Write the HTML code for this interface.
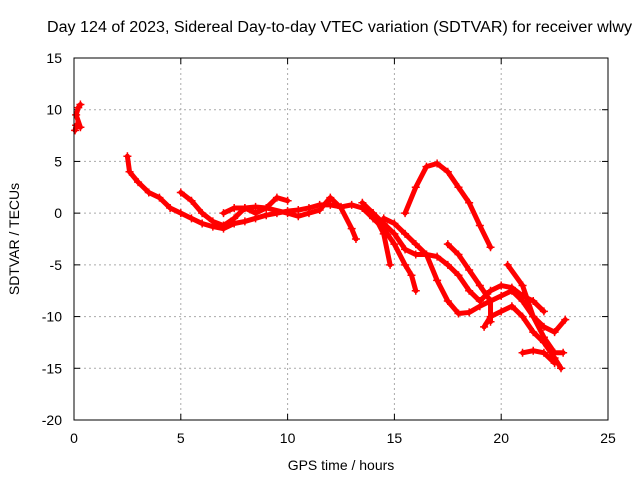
<!DOCTYPE html>
<html><head><meta charset="utf-8"><style>
body{margin:0;background:#fff}
svg{font-family:"Liberation Sans",sans-serif;font-size:14px}
</style></head><body>
<svg width="640" height="480">
<rect width="640" height="480" fill="#fff"/>
<text x="47" y="32" textLength="585" lengthAdjust="spacingAndGlyphs" style="font-size:15.5px">Day 124 of 2023, Sidereal Day-to-day VTEC variation (SDTVAR) for receiver wlwy</text>
<g id="grid"></g>
<g id="axes"></g>
<g id="data"></g>
<rect x="74" y="58" width="534" height="362" fill="none" stroke="#000"/>
<text x="341" y="470" text-anchor="middle">GPS time / hours</text>
<text x="19" y="239" text-anchor="middle" transform="rotate(-90 19 239)">SDTVAR / TECUs</text>
</svg>
<script>
const xTicks=[0,5,10,15,20,25];
const yTicks=[15,10,5,0,-5,-10,-15,-20];
const track1=[[0.05,8],[0.1,8.5],[0.3,8.3],[0.1,9.5],[0.2,10.2],[0.3,10.5]];
const track2=[[2.5,5.5],[2.6,4],[3,3],[3.5,2],[4,1.5],[4.5,0.5],[5,0],[5.5,-0.5],[6,-1],[6.5,-1.3],[7,-1.5],[7.5,-1],[8,-0.8],[8.5,-0.5],[9,-0.2],[9.5,0],[10,0.2],[10.5,0.3],[11,0.5],[11.5,0.8],[12,0.8],[12.5,0.6],[13,0.8],[13.5,0.5],[14,0],[14.5,-1],[15,-2],[15.5,-3.5],[16,-4],[16.5,-4],[17,-4.2],[17.5,-5],[18,-6],[18.5,-7.5],[19,-8.5],[19.5,-7.5],[20,-7],[20.5,-7.2],[21,-8],[21.5,-8.5],[22,-9.5]];
const track3=[[5,2],[5.5,1.2],[6,0],[6.5,-0.8],[7,-1.2],[7.5,-0.5],[8,0.5],[8.5,0],[9,0.5],[9.5,1.5],[10,1.2]];
const track4=[[7,0],[7.5,0.5],[8,0.5],[8.5,0.6],[9,0.5],[10,0],[10.5,-0.3],[11,0],[11.5,0.3],[12,1.5],[12.5,0.5],[13,-1.5],[13.2,-2.5]];
const track5=[[13.5,1],[14,0],[14.5,-2],[14.8,-5]];
const track6=[[13.5,0.5],[14,-0.5],[14.5,-1.5],[15,-3],[15.5,-5],[15.8,-6],[16,-7.5]];
const track7=[[15.5,0],[16,2.5],[16.5,4.5],[17,4.8],[17.5,4],[18,2.5],[18.5,1],[19,-1.2],[19.5,-3.3]];
const track8=[[14.5,-0.5],[15,-1],[15.5,-2],[16,-3],[16.5,-4],[17,-6.5],[17.5,-8.5],[18,-9.7],[18.5,-9.6],[19,-9],[19.5,-8.5],[20,-8],[20.5,-7.5],[21,-8.5],[21.5,-10],[22,-11],[22.5,-11.5],[23,-10.3]];
const track9=[[17.5,-3],[18,-4],[18.5,-5.5],[19,-7],[19.5,-8.5],[19.5,-10.5]];
const track10=[[19.2,-11],[19.5,-10],[20,-9.5],[20.5,-9],[21,-10],[21.5,-11.5],[22,-12.5],[22.5,-14],[22.8,-15]];
const track11=[[20.3,-5],[21,-7],[21.5,-10],[22,-12],[22.5,-13.5],[22.9,-13.5]];
const track12=[[21,-13.5],[21.5,-13.3],[22,-13.5],[22.5,-14.5]];
const tracks=[track1,track2,track3,track4,track5,track6,track7,track8,track9,track10,track11,track12];
const X=v=>74+(v-0)/25*534, Y=v=>58+(15-v)/35*362;
const NS="http://www.w3.org/2000/svg";
function mk(tag,attrs,parent){const e=document.createElementNS(NS,tag);for(const k in attrs)e.setAttribute(k,attrs[k]);parent.appendChild(e);return e;}
const grid=document.getElementById('grid'),axes=document.getElementById('axes'),data=document.getElementById('data');
xTicks.forEach(t=>{const x=X(t);
 if(t>0&&t<25){const g=mk('line',{x1:x,x2:x,y1:58,y2:420,stroke:'#aaa','stroke-dasharray':'2,3'},grid);
 
 }
 const l=mk('text',{x:x,y:443,'text-anchor':'middle'},axes);l.textContent=t;
 
 
 mk('line',{x1:x,x2:x,y1:420,y2:414,stroke:'#000'},axes);mk('line',{x1:x,x2:x,y1:58,y2:64,stroke:'#000'},axes);});
yTicks.forEach(t=>{const y=Y(t);
 if(t<15&&t>-20){const g=mk('line',{x1:74,x2:608,y1:y,y2:y,stroke:'#aaa','stroke-dasharray':'2,3'},grid);
 
 }
 const l=mk('text',{x:62,y:y+5,'text-anchor':'end'},axes);l.textContent=t;
 
 
 mk('line',{x1:74,x2:80,y1:y,y2:y,stroke:'#000'},axes);mk('line',{x1:608,x2:602,y1:y,y2:y,stroke:'#000'},axes);});
tracks.forEach(tr=>{
 const p=mk('polyline',{points:tr.map(d=>X(d[0])+','+Y(d[1])).join(' '),fill:'none',stroke:'#f00','stroke-width':5,'stroke-linejoin':'round','stroke-linecap':'round'},data);
 
 
 tr.forEach(d=>{const x=X(d[0]),y=Y(d[1]);
  const c=mk('path',{d:`M${x-4},${y}H${x+4}M${x},${y-4}V${y+4}`,stroke:'#f00','stroke-width':1.5},data);
  
  });
});
</script>
</body></html>
